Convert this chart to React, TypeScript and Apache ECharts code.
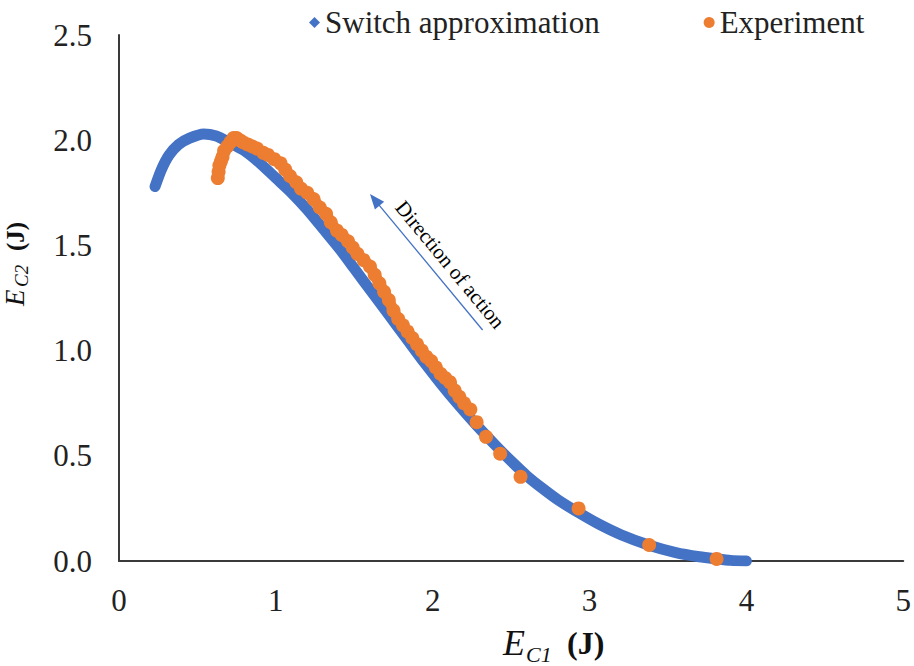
import { useEffect, useRef } from 'react';
import * as echarts from 'echarts';

// Switch approximation (blue)
const switchX = [0.23, 0.27, 0.32, 0.38, 0.45, 0.54, 0.62, 0.70, 0.80, 0.90, 1.00, 1.10, 1.20, 1.30, 1.41, 1.50, 1.62, 1.72, 1.83, 1.95, 2.05, 2.15, 2.28, 2.40, 2.50, 2.60, 2.70, 2.80, 2.93, 3.06, 3.20, 3.38, 3.55, 3.70, 3.81, 3.90, 4.00];
const switchY = [1.78, 1.86, 1.93, 1.98, 2.01, 2.03, 2.02, 1.99, 1.95, 1.89, 1.82, 1.75, 1.67, 1.58, 1.48, 1.39, 1.27, 1.17, 1.06, 0.94, 0.845, 0.755, 0.645, 0.55, 0.475, 0.405, 0.345, 0.29, 0.23, 0.175, 0.125, 0.075, 0.04, 0.02, 0.01, 0.003, 0.0];

// Experiment (orange)
const expX = [0.63, 0.635, 0.64, 0.65, 0.66, 0.67, 0.69, 0.71, 0.73, 0.75, 0.77, 0.79, 0.82, 0.85, 0.88, 0.92, 0.95, 0.99, 1.03, 1.06, 1.09, 1.13, 1.16, 1.20, 1.24, 1.28, 1.32, 1.35, 1.39, 1.42, 1.46, 1.49, 1.52, 1.56, 1.60, 1.63, 1.66, 1.69, 1.72, 1.75, 1.78, 1.81, 1.84, 1.87, 1.90, 1.93, 1.96, 1.99, 2.02, 2.05, 2.08, 2.11, 2.14, 2.17, 2.20, 2.24, 2.28, 2.34, 2.43, 2.56, 2.93, 3.38, 3.81];
const expY = [1.82, 1.85, 1.88, 1.90, 1.92, 1.95, 1.97, 1.99, 2.01, 2.01, 2.00, 1.99, 1.98, 1.97, 1.96, 1.94, 1.93, 1.91, 1.89, 1.86, 1.83, 1.80, 1.77, 1.75, 1.72, 1.68, 1.65, 1.61, 1.57, 1.55, 1.52, 1.49, 1.46, 1.43, 1.40, 1.36, 1.32, 1.28, 1.24, 1.19, 1.15, 1.12, 1.09, 1.06, 1.03, 1.00, 0.97, 0.95, 0.92, 0.89, 0.87, 0.85, 0.81, 0.78, 0.75, 0.72, 0.66, 0.59, 0.51, 0.40, 0.25, 0.076, 0.01];
// number of leading experiment points that form the dense continuous band
const expDenseCount = 56;

const seriesNames = ['Switch approximation', 'Experiment'];
const annotationText = 'Direction of action';
// annotation arrow in data coordinates: tail -> tip, and text centre
const arrowTail = [2.318, 1.098];
const arrowTip = [1.60, 1.744];
const textCenter = [2.111, 1.409];

const FONT = 'Liberation Serif';
const BLUE = '#4472C4';
const ORANGE = '#ED7D31';

export default function App() {
  const ref = useRef<HTMLDivElement>(null);
  useEffect(() => {
    const chart = echarts.init(ref.current!, null, { renderer: 'svg' });
    const expData = expX.map((x, i) => [x, expY[i]]);
    chart.setOption({
      animation: false,
      backgroundColor: '#ffffff',
      grid: { left: 119, right: 10, top: 35, bottom: 105 },
      legend: {
        left: 304,
        top: 2,
        itemWidth: 11,
        itemHeight: 11,
        itemGap: 104,
        textStyle: { fontFamily: FONT, fontSize: 31, color: '#222' },
        data: [
          { name: seriesNames[0], icon: 'diamond' },
          { name: seriesNames[1], icon: 'circle' },
        ],
      },
      xAxis: {
        type: 'value', min: 0, max: 5, interval: 1,
        axisLine: { show: true, onZero: false, lineStyle: { color: '#3a3a3a', width: 2 } },
        axisTick: { show: false },
        splitLine: { show: false },
        axisLabel: { fontFamily: FONT, fontSize: 31, color: '#222', margin: 24 },
      },
      yAxis: {
        type: 'value', min: 0, max: 2.5, interval: 0.5,
        axisLine: { show: true, onZero: false, lineStyle: { color: '#3a3a3a', width: 2 } },
        axisTick: { show: false },
        splitLine: { show: false },
        axisLabel: { fontFamily: FONT, fontSize: 31, color: '#222', margin: 27, formatter: (v: number) => v.toFixed(1) },
      },
      series: [
        {
          name: seriesNames[0], type: 'line', smooth: 0.25,
          data: switchX.map((x, i) => [x, switchY[i]]),
          symbol: 'none', lineStyle: { width: 11, color: BLUE, cap: 'round', join: 'round' }, itemStyle: { color: BLUE }, z: 2,
        },
        {
          name: 'Experiment band', type: 'line',
          data: expData.slice(0, expDenseCount),
          symbol: 'none', lineStyle: { width: 11, color: ORANGE, cap: 'round', join: 'round' }, itemStyle: { color: ORANGE }, z: 3,
          tooltip: { show: false },
        },
        {
          name: seriesNames[1], type: 'scatter',
          data: expData,
          symbol: 'circle', symbolSize: 14, itemStyle: { color: ORANGE, opacity: 1 }, z: 4,
        },
      ],
    });

    const tail = chart.convertToPixel({ gridIndex: 0 }, arrowTail) as number[];
    const tip = chart.convertToPixel({ gridIndex: 0 }, arrowTip) as number[];
    const tc = chart.convertToPixel({ gridIndex: 0 }, textCenter) as number[];
    const dx = tip[0] - tail[0];
    const dy = tip[1] - tail[1];
    const len = Math.sqrt(dx * dx + dy * dy);
    const ux = dx / len, uy = dy / len;
    const headLen = 15, headHalf = 6;
    const bx = tip[0] - ux * headLen, by = tip[1] - uy * headLen;
    const px = -uy, py = ux;
    const angle = Math.atan2(tail[1] - tip[1], tail[0] - tip[0]);

    chart.setOption({
      graphic: [
        {
          type: 'line', silent: true,
          shape: { x1: tail[0], y1: tail[1], x2: bx + ux * 2, y2: by + uy * 2 },
          style: { stroke: BLUE, lineWidth: 1.3 },
        },
        {
          type: 'polygon', silent: true,
          shape: { points: [[tip[0], tip[1]], [bx + px * headHalf, by + py * headHalf], [bx - px * headHalf, by - py * headHalf]] },
          style: { fill: BLUE },
        },
        {
          type: 'text', silent: true, x: tc[0], y: tc[1], rotation: -angle,
          style: { text: annotationText, fontFamily: FONT, fontSize: 21, fill: '#000', align: 'center', verticalAlign: 'middle' },
        },
        {
          type: 'group', x: 503, y: 643, silent: true,
          children: [
            { type: 'text', x: 0, y: 0, style: { text: 'E', fontFamily: FONT, fontStyle: 'italic', fontSize: 36, fill: '#111', verticalAlign: 'middle' } },
            { type: 'text', x: 23, y: 11, style: { text: 'C1', fontFamily: FONT, fontStyle: 'italic', fontSize: 22, fill: '#111', verticalAlign: 'middle' } },
            { type: 'text', x: 64, y: 0, style: { text: '(J)', fontFamily: FONT, fontWeight: 'bold', fontSize: 32, fill: '#111', verticalAlign: 'middle' } },
          ],
        },
        {
          type: 'group', x: 15, y: 306, rotation: Math.PI / 2, silent: true,
          children: [
            { type: 'text', x: 0, y: 0, style: { text: 'E', fontFamily: FONT, fontStyle: 'italic', fontSize: 27, fill: '#111', verticalAlign: 'middle' } },
            { type: 'text', x: 19, y: 6, style: { text: 'C2', fontFamily: FONT, fontStyle: 'italic', fontSize: 19, fill: '#111', verticalAlign: 'middle' } },
            { type: 'text', x: 55, y: 0, style: { text: '(J)', fontFamily: FONT, fontWeight: 'bold', fontSize: 25, fill: '#111', verticalAlign: 'middle' } },
          ],
        },
      ],
    });

    return () => chart.dispose();
  }, []);
  return <div ref={ref} style={{ width: 914, height: 666, position: 'absolute', left: 0, top: 0 }} />;
}
